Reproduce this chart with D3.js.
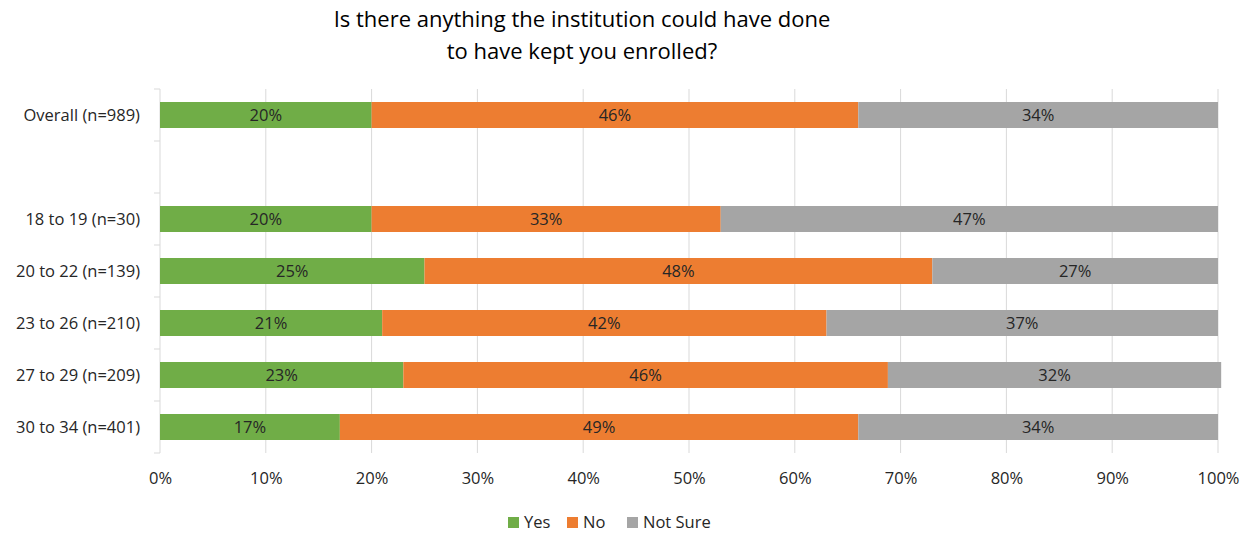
<!DOCTYPE html>
<html lang='en'>
<head>
   <meta charset='UTF-8'>
   <title>Kept enrolled</title>
   <script src='https://d3js.org/d3.v7.min.js'></script>
   <style>
      body { margin: 0; background: #fff; }
      svg { display: block; font-family: 'Open Sans', sans-serif; }
   </style>
</head>
<body>
   <div id='chart'></div>
   <script>
      // rows top to bottom, the blank one is a spacer row in the original
      const categories = ['Overall (n=989)', '', '18 to 19 (n=30)', '20 to 22 (n=139)', '23 to 26 (n=210)', '27 to 29 (n=209)', '30 to 34 (n=401)'];
      const yesValues = [20, null, 20, 25, 21, 23, 17];
      const noValues = [46, null, 33, 48, 42, 45.8, 49];
      const notSureValues = [34, null, 47, 27, 37, 31.5, 34];
      const seriesNames = ['Yes', 'No', 'Not Sure'];
      const seriesColours = ['#70ad47', '#ed7d31', '#a5a5a5'];
      const xTicks = [0, 10, 20, 30, 40, 50, 60, 70, 80, 90, 100];

      const W = 1252, H = 534;
      const margin = { top: 89, right: 34, bottom: 81, left: 160 };
      const width = W - margin.left - margin.right;
      const height = H - margin.top - margin.bottom;
      const fs = '16.5px';

      const svg = d3.select('#chart').append('svg').attr('width', W).attr('height', H);

      svg.append('text')
         .attr('x', 582).attr('y', 27)
         .attr('text-anchor', 'middle')
         .attr('font-size', '22px').attr('fill', '#000')
         .text('Is there anything the institution could have done');
      svg.append('text')
         .attr('x', 582).attr('y', 59)
         .attr('text-anchor', 'middle')
         .attr('font-size', '22px').attr('fill', '#000')
         .text('to have kept you enrolled?');

      const g = svg.append('g').attr('transform', `translate(${margin.left}, ${margin.top})`);

      const x = d3.scaleLinear().domain([0, 100]).range([0, width]);
      const y = d3.scaleBand().domain(d3.range(categories.length)).range([0, height]).paddingInner(0.5).paddingOuter(0.25);

      // gridlines
      g.append('g').selectAll('line').data(xTicks.slice(1)).join('line')
         .attr('x1', d => x(d)).attr('x2', d => x(d))
         .attr('y1', 0).attr('y2', height)
         .attr('stroke', '#d9d9d9').attr('stroke-width', 1);

      // left axis with ticks between categories
      const step = y.step();
      g.append('line').attr('x1', 0).attr('x2', 0).attr('y1', 0).attr('y2', height)
         .attr('stroke', '#d9d9d9');
      g.append('g').selectAll('line').data(d3.range(categories.length + 1)).join('line')
         .attr('x1', -6).attr('x2', 0)
         .attr('y1', d => d * step).attr('y2', d => d * step)
         .attr('stroke', '#d9d9d9');

      g.append('g').selectAll('text').data(categories).join('text')
         .attr('x', -20)
         .attr('y', (d, i) => y(i) + y.bandwidth() / 2)
         .attr('dy', '0.35em')
         .attr('text-anchor', 'end')
         .attr('font-size', fs).attr('fill', '#262626')
         .text(d => d);

      // bottom tick labels
      const xAxis = g.append('g').attr('transform', `translate(0, ${height})`)
         .call(d3.axisBottom(x).tickValues(xTicks).tickFormat(d => d + '%').tickSize(0).tickPadding(19));
      xAxis.select('.domain').remove();
      xAxis.selectAll('text').attr('font-size', fs).attr('fill', '#262626').attr('font-family', "'Open Sans', sans-serif");

      const rows = categories.map((c, i) => ({ i, vals: [yesValues[i], noValues[i], notSureValues[i]] }))
         .filter(r => r.vals[0] != null);

      const segs = [];
      rows.forEach(r => {
         let acc = 0;
         r.vals.forEach((v, k) => {
            segs.push({ i: r.i, k, x0: acc, x1: acc + v, v });
            acc += v;
         });
      });

      g.append('g').selectAll('rect').data(segs).join('rect')
         .attr('x', d => x(d.x0))
         .attr('y', d => y(d.i))
         .attr('width', d => x(d.x1) - x(d.x0))
         .attr('height', y.bandwidth())
         .attr('fill', d => seriesColours[d.k]);

      g.append('g').selectAll('text').data(segs).join('text')
         .attr('x', d => x((d.x0 + d.x1) / 2))
         .attr('y', d => y(d.i) + y.bandwidth() / 2)
         .attr('dy', '0.35em')
         .attr('text-anchor', 'middle')
         .attr('font-size', fs).attr('fill', '#262626')
         .text(d => Math.round(d.v) + '%');

      // legend
      const legendX = [508, 567, 627];
      const legend = svg.append('g').selectAll('g').data(seriesNames).join('g')
         .attr('transform', (d, i) => `translate(${legendX[i]}, 517)`);
      legend.append('rect').attr('width', 11).attr('height', 11).attr('fill', (d, i) => seriesColours[i]);
      legend.append('text').attr('x', 16).attr('y', 5.5).attr('dy', '0.35em')
         .attr('font-size', fs).attr('fill', '#262626').text(d => d);
   </script>
</body>
</html>
